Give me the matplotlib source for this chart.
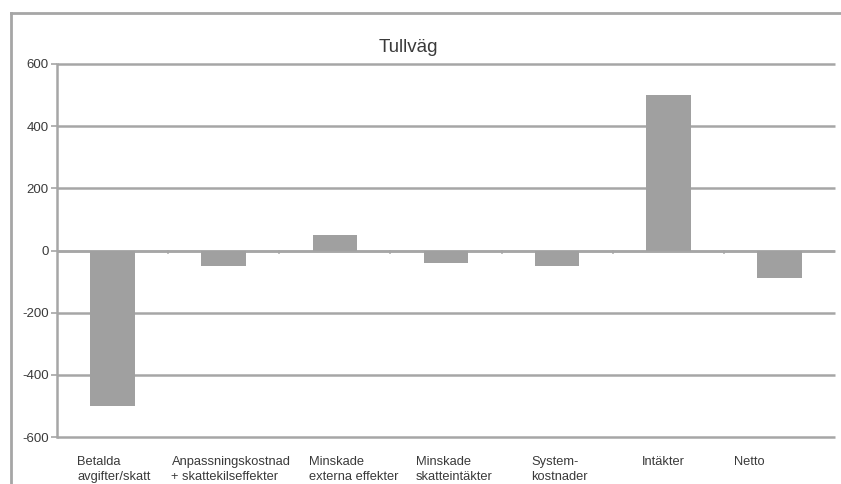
import matplotlib
matplotlib.use("Agg")
import matplotlib.pyplot as plt
from matplotlib.lines import Line2D

plt.rcParams['font.family'] = ['Liberation Sans', 'DejaVu Sans']

categories = ["Betalda\navgifter/skatt", "Anpassningskostnad\n+ skattekilseffekter",
              "Minskade\nexterna effekter", "Minskade\nskatteintäkter",
              "System-\nkostnader", "Intäkter", "Netto"]
values = [-500, -50, 50, -40, -50, 500, -90]
yticks = [-600, -400, -200, 0, 200, 400, 600]
title = "Tullväg"

# label left offsets (in category widths) relative to category start
label_offsets = [0.18, 0.03, 0.27, 0.23, 0.27, 0.26, 0.09]

W, H = 841, 484
fig = plt.figure(figsize=(W / 100, H / 100), dpi=100)
fig.patch.set_facecolor("white")
ax = fig.add_axes([57 / W, (H - 437) / H, (835 - 57) / W, (437 - 64) / H])

grid_c = "#a6a6a6"
txt_c = "#3a3a3a"
n = len(values)
x = list(range(n))
ax.bar(x, values, width=0.4, color="#a0a0a0", zorder=3)
ax.set_xlim(-0.5, n - 0.5)
ax.set_ylim(-600, 600)
ax.set_yticks(yticks)
ax.set_yticklabels([str(v) for v in yticks], fontsize=9.5, color=txt_c)
ax.yaxis.grid(True, color=grid_c, linewidth=1.8, zorder=0)
for gl in ax.get_ygridlines():
    gl.set_clip_on(False)
    gl.set_solid_capstyle("butt")
ax.set_axisbelow(True)
for s in ["top", "right", "bottom"]:
    ax.spines[s].set_visible(False)
ax.spines["left"].set_color(grid_c)
ax.spines["left"].set_linewidth(1.8)
ax.tick_params(axis="y", length=4, width=1.2, color=grid_c, pad=2)
ax.set_xticks([])
ax.axhline(0, color=grid_c, linewidth=1.8, zorder=2, solid_capstyle="butt")

# category separator ticks on zero line
for b in range(1, n):
    ax.plot([b - 0.5, b - 0.5], [0, -9], color=grid_c, lw=1.2, zorder=2, clip_on=False)

# category labels
for i, (lab, off) in enumerate(zip(categories, label_offsets)):
    ax.text(i - 0.5 + off, -662, lab, ha="left", va="top", fontsize=9.3,
            color=txt_c, linespacing=1.35, transform=ax.transData, clip_on=False)

fig.text(408 / W, 1 - 47 / H, title, ha="center", va="center", fontsize=13.5, color=txt_c)

# outer border (left and top)
fig.add_artist(Line2D([10.5 / W, 10.5 / W], [0, 1 - 13 / H], color="#a6a6a6", lw=2, transform=fig.transFigure))
fig.add_artist(Line2D([10.5 / W, 1], [1 - 13 / H, 1 - 13 / H], color="#a6a6a6", lw=2, transform=fig.transFigure))

fig.savefig("out.png", dpi=100, facecolor="white")
